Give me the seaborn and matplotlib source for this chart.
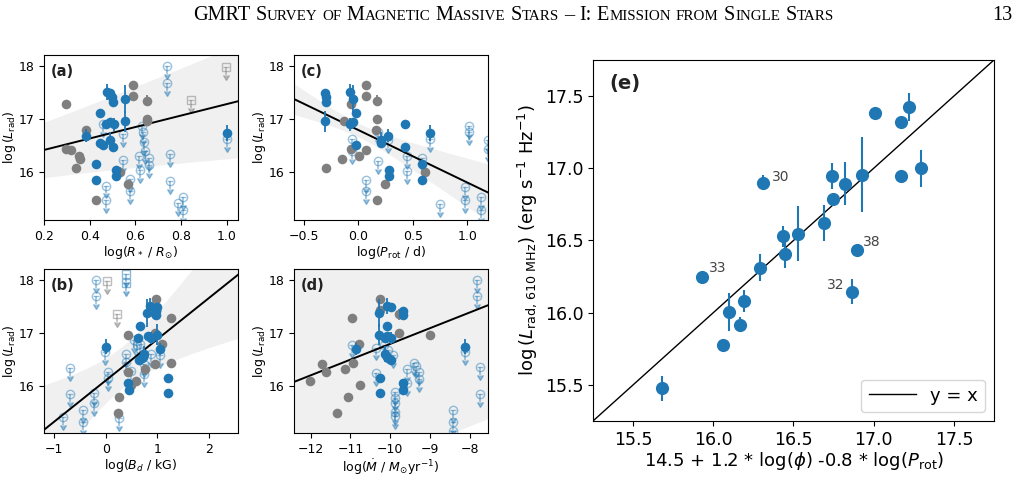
import matplotlib
matplotlib.use("Agg")
import matplotlib.pyplot as plt
import seaborn as sns
import numpy as np

# ---- detections (filled blue), shared y, x per panel ----
BLUE_Y = [17.51, 17.49, 17.41, 17.38, 17.33, 17.12, 16.96, 16.94, 16.91, 16.90,
          16.74, 16.69, 16.60, 16.55, 16.52, 16.48, 16.15, 16.05, 15.92, 15.85]
BLUE_ERR = [0.15, 0.05, 0.06, 0.27, 0.05, 0.05, 0.2, 0.06, 0.05, 0.12,
            0.15, 0.12, 0.15, 0.08, 0.05, 0.05, 0.05, 0.05, 0.05, 0.05]
BLUE_X_R = [0.476, 0.49, 0.50, 0.554, 0.503, 0.444, 0.554, 0.49, 0.473, 0.507,
            1.0, 0.383, 0.488, 0.444, 0.46, 0.503, 0.43, 0.517, 0.514, 0.43]
BLUE_X_P = [-0.078, -0.309, -0.30, -0.048, -0.30, -0.017, -0.309, -0.048, 0.429, -0.078,
            0.66, 0.275, 0.205, 0.205, -0.017, 0.429, 0.583, 0.285, 0.285, 0.583]
BLUE_X_B = [0.854, 0.997, 0.984, 0.803, 0.984, 0.673, 0.997, 0.822, 0.628, 0.887,
            0.0, 1.049, 0.738, 0.72, 0.706, 0.641, 1.217, 0.44, 0.46, 1.217]
BLUE_X_M = [-10.09, -9.97, -9.69, -10.28, -9.69, -10.09, -10.28, -10.09, -10.12, -9.97,
            -8.12, -10.85, -10.12, -10.09, -10.05, -9.97, -10.26, -9.69, -9.69, -10.26]

# ---- detections (filled grey), shared y, x per panel ----
GREY_Y = [17.64, 17.43, 17.35, 17.28, 17.0, 16.96, 16.79, 16.43, 16.41, 16.31,
          16.25, 16.08, 16.01, 15.78, 15.48]
GREY_ERR = [0.05, 0.05, 0.1, 0.07, 0.08, 0.05, 0.07, 0.05, 0.05, 0.05,
            0.05, 0.05, 0.08, 0.05, 0.05]
GREY_X_R = [0.59, 0.59, 0.65, 0.298, 0.65, 0.65, 0.383, 0.298, 0.32, 0.352,
            0.358, 0.342, 0.532, 0.566, 0.43]
GREY_X_P = [0.075, 0.075, 0.174, -0.063, 0.174, -0.131, 0.162, -0.063, 0.075, 0.008,
            -0.149, -0.30, 0.608, 0.242, 0.174]
GREY_X_B = [0.984, 0.97, 0.95, 1.275, 0.964, 0.427, 1.094, 1.275, 0.964, 0.757,
            0.434, 0.595, 0.50, 0.252, 0.233]
GREY_X_M = [-10.26, -10.26, -9.77, -10.95, -9.77, -9.0, -10.79, -10.93, -11.71, -11.14,
            -11.62, -12.03, -10.75, -11.05, -11.34]

# ---- upper limits (open circles) ----
UL_R_X = [0.737, 0.737, 0.459, 0.547, 0.631, 0.634, 0.637, 0.544, 0.643, 0.617, 0.659, 0.659,
          0.62, 0.751, 0.751, 0.473, 0.473, 0.576, 0.576, 0.807, 0.788, 0.807, 1.0]
UL_R_Y = [18.0, 17.69, 16.9, 16.72, 16.88, 16.75, 16.57, 16.23, 16.4, 16.3, 16.27, 16.13,
          16.05, 16.34, 15.83, 15.75, 15.47, 15.87, 15.65, 15.53, 15.42, 15.29, 16.63]
UL_P_X = [-0.054, -0.054, 0.183, 0.183, 0.275, 0.445, 0.445, 0.583, 0.66, 0.066, 0.066,
          0.752, 0.983, 0.983, 1.014, 1.014, 1.122, 1.122, 1.19, 1.19]
UL_P_Y = [16.63, 16.40, 16.75, 16.22, 16.61, 16.30, 16.03, 16.27, 16.63, 15.86, 15.65,
          15.40, 15.73, 15.48, 16.88, 16.75, 15.53, 15.29, 16.60, 16.44]
UL_B_X = [-0.18, -0.18, -0.70, -0.70, -0.83, -0.44, -0.44, -0.23, -0.23, -0.01, 0.04, 0.04,
          0.40, 0.40, 0.54, 0.60, 0.67, 0.50, 0.74, 0.74, 0.87, 1.05, 0.25]
UL_B_Y = [18.0, 17.69, 16.34, 15.84, 15.41, 15.54, 15.30, 15.85, 15.67, 16.64, 16.25, 16.14,
          16.60, 16.45, 16.86, 16.76, 16.78, 16.28, 16.21, 16.41, 16.60, 16.57, 15.39]
UL_M_X = [-7.82, -7.82, -10.97, -10.36, -10.15, -10.05, -9.94, -8.12, -10.37, -9.59, -9.39,
          -9.36, -9.28, -9.28, -9.59, -9.88, -9.88, -9.88, -9.88, -9.88, -8.41, -8.41, -8.41,
          -7.74, -7.74]
UL_M_Y = [18.0, 17.69, 16.77, 16.72, 16.77, 16.68, 16.58, 16.63, 16.24, 16.32, 16.43,
          16.38, 16.26, 16.13, 16.04, 15.88, 15.77, 15.66, 15.50, 15.43, 15.54, 15.31, 15.13,
          16.35, 15.84]

# ---- upper limits (open squares) ----
SQ_R_X = [0.997, 0.842]
SQ_R_Y = [17.98, 17.37]
SQ_R_C = ['grey', 'grey']
SQ_B_X = [0.03, 0.22, 0.40, 0.40]
SQ_B_Y = [17.98, 17.36, 18.12, 17.94]
SQ_B_C = ['grey', 'grey', 'blue', 'blue']

# ---- fits: intercept, slope ; band: x0, a, b  (half width = sqrt(a^2 + (b (x-x0))^2)) ----
FIT_R, BAND_R = (16.204, 1.08), (-0.3, 0.37, 0.74)
FIT_P, BAND_P = (16.796, -0.99), (0.0, 0.13, 0.44)
FIT_B, BAND_B = (16.096, 0.78), (0.3, 0.40, 0.50)
FIT_M, BAND_M = (19.77, 0.298), (-7.5, 2.15, 0.0)

# ---- panel (e) ----
E_X = [16.313, 17.009, 17.17, 17.221, 17.298, 17.17, 16.738, 16.819, 16.926, 16.749, 16.691,
       16.436, 16.53, 16.445, 16.896, 16.291, 15.93, 16.862, 16.10, 16.191, 16.164, 16.062, 15.679]
E_Y = [16.90, 17.385, 17.32, 17.426, 17.0, 16.947, 16.949, 16.894, 16.954, 16.788, 16.62,
       16.528, 16.546, 16.408, 16.433, 16.311, 16.244, 16.145, 16.005, 16.083, 15.917, 15.779, 15.477]
E_ERR = [0.05, 0.03, 0.03, 0.097, 0.13, 0.03, 0.09, 0.15, 0.26, 0.03, 0.125, 0.07, 0.19, 0.1,
         0.03, 0.095, 0.03, 0.087, 0.13, 0.075, 0.05, 0.02, 0.087]
E_LABELS = ['30', '', '', '', '', '', '', '', '', '', '', '', '', '', '38', '', '33', '32',
            '', '', '', '', '']

BLUE = '#1f77b4'
GREY = '#7f7f7f'
YLIM = (15.1, 18.21)

fig = plt.figure(figsize=(10.18, 4.79), dpi=100)


def draw_panel(ax, blue_x, grey_x, ul_x, ul_y, sq_x, sq_y, sq_c, fit, band,
               xlim, xticks, xlabel, tag):
    xs = np.linspace(xlim[0], xlim[1], 300)
    line = fit[0] + fit[1] * xs
    hw = np.sqrt(band[1] ** 2 + (band[2] * (xs - band[0])) ** 2)
    ax.fill_between(xs, line - hw, line + hw, color='#f0f0f0', lw=0, zorder=0)

    # upper limits
    ax.errorbar(ul_x, ul_y, yerr=0.15, uplims=True, fmt='o', color=BLUE, mfc='none', mec=BLUE,
                ms=6, mew=1, ecolor=BLUE, elinewidth=1.2, capsize=2.5, alpha=0.45, zorder=1)
    for x, y, c in zip(sq_x, sq_y, sq_c):
        col = GREY if c == 'grey' else BLUE
        ax.errorbar([x], [y], yerr=0.15, uplims=True, fmt='s', color=col, mfc='none', mec=col,
                    ms=6, mew=1, ecolor=col, elinewidth=1.2, capsize=2.5, alpha=0.5, zorder=1)

    ax.plot(xs, line, color='k', lw=1.4, zorder=2)

    # detections
    ax.errorbar(grey_x, GREY_Y, yerr=GREY_ERR, fmt='none', ecolor=GREY, elinewidth=1.3, zorder=3)
    sns.scatterplot(x=grey_x, y=GREY_Y, ax=ax, color=GREY, s=48, linewidth=0, zorder=3)
    ax.errorbar(blue_x, BLUE_Y, yerr=BLUE_ERR, fmt='none', ecolor=BLUE, elinewidth=1.3, zorder=4)
    sns.scatterplot(x=blue_x, y=BLUE_Y, ax=ax, color=BLUE, s=48, linewidth=0, zorder=4)

    ax.set_xlim(xlim)
    ax.set_ylim(YLIM)
    ax.set_xticks(xticks)
    ax.set_yticks([16, 17, 18])
    ax.tick_params(labelsize=9)
    ax.set_xlabel(xlabel, fontsize=9, labelpad=1)
    ax.set_ylabel(r'log$\,(L_{\rm rad})$', fontsize=9, labelpad=0)
    ax.text(0.035, 0.9, tag, transform=ax.transAxes, fontsize=10.5, fontweight='bold',
            ha='left', va='center', color='#222222')


ax_a = fig.add_axes([0.0432, 0.5407, 0.1906, 0.3445])
ax_c = fig.add_axes([0.2888, 0.5407, 0.1906, 0.3445])
ax_b = fig.add_axes([0.0432, 0.0960, 0.1906, 0.3424])
ax_d = fig.add_axes([0.2888, 0.0960, 0.1906, 0.3424])

draw_panel(ax_a, BLUE_X_R, GREY_X_R, UL_R_X, UL_R_Y, SQ_R_X, SQ_R_Y, SQ_R_C, FIT_R, BAND_R,
           (0.2, 1.05), [0.2, 0.4, 0.6, 0.8, 1.0], r'log($R_*$ / $R_{\odot}$)', '(a)')
draw_panel(ax_c, BLUE_X_P, GREY_X_P, UL_P_X, UL_P_Y, [], [], [], FIT_P, BAND_P,
           (-0.59, 1.19), [-0.5, 0.0, 0.5, 1.0], r'log($P_{\rm rot}$ / d)', '(c)')
draw_panel(ax_b, BLUE_X_B, GREY_X_B, UL_B_X, UL_B_Y, SQ_B_X, SQ_B_Y, SQ_B_C, FIT_B, BAND_B,
           (-1.2, 2.57), [-1, 0, 1, 2], r'log($B_d$ / kG)', '(b)')
draw_panel(ax_d, BLUE_X_M, GREY_X_M, UL_M_X, UL_M_Y, [], [], [], FIT_M, BAND_M,
           (-12.42, -7.54), [-12, -11, -10, -9, -8], r'log($\dot{M}$ / $M_{\odot}$yr$^{-1}$)', '(d)')

# ---- panel (e) ----
ax_e = fig.add_axes([0.5825, 0.1211, 0.3939, 0.7537])
lim = (15.25, 17.75)
ax_e.plot(lim, lim, color='k', lw=1, label='y = x', zorder=1)
ax_e.errorbar(E_X, E_Y, yerr=E_ERR, fmt='none', ecolor=BLUE, elinewidth=1.5, zorder=2)
sns.scatterplot(x=E_X, y=E_Y, ax=ax_e, color=BLUE, s=90, linewidth=0, zorder=3)
offsets = {'30': (6, 4, 'left'), '38': (4, 6, 'left'), '33': (5, 7, 'left'), '32': (-5, 5, 'right')}
for x, y, lab in zip(E_X, E_Y, E_LABELS):
    if lab:
        dx, dy, ha = offsets[lab]
        ax_e.annotate(lab, (x, y), xytext=(dx, dy), textcoords='offset points',
                      ha=ha, va='center', fontsize=10, color='#444444')
ax_e.set_xlim(lim)
ax_e.set_ylim(lim)
ax_e.set_xticks([15.5, 16.0, 16.5, 17.0, 17.5])
ax_e.set_yticks([15.5, 16.0, 16.5, 17.0, 17.5])
ax_e.tick_params(labelsize=12.5)
ax_e.set_xlabel(r'14.5 + 1.2 * log($\phi$) -0.8 * log($P_{\rm rot}$)', fontsize=13, labelpad=1)
ax_e.set_ylabel(r'log$\,(L_{\rm rad,\,610\ MHz})$ (erg s$^{-1}$ Hz$^{-1}$)', fontsize=13, labelpad=4)
ax_e.text(0.04, 0.935, '(e)', transform=ax_e.transAxes, fontsize=14, fontweight='bold',
          ha='left', va='center', color='#222222')
ax_e.legend(loc='lower right', fontsize=13, handlelength=2.6)

# ---- running header in small caps ----
renderer = fig.canvas.get_renderer()
HEADER = 'GMRT Survey of Magnetic Massive Stars \u2013 I: Emission from Single Stars'
big, small = 14.6, 10.8
x_px, base_y = 193.0, 1 - 20.0 / 479
for word_i, word in enumerate(HEADER.split(' ')):
    if word_i:
        x_px += 0.25 * big * 100 / 72
    runs = []
    for ch in word:
        size = small if ch.islower() else big
        if runs and runs[-1][1] == size:
            runs[-1][0] += ch.upper()
        else:
            runs.append([ch.upper(), size])
    for s, size in runs:
        t = fig.text(x_px / 1018, base_y, s, fontsize=size, family='Liberation Serif',
                     ha='left', va='baseline')
        x_px += t.get_window_extent(renderer).width
fig.text(1012 / 1018, base_y, '13', fontsize=big, family='Liberation Serif', ha='right',
         va='baseline')

fig.savefig('out.png', dpi=100)
